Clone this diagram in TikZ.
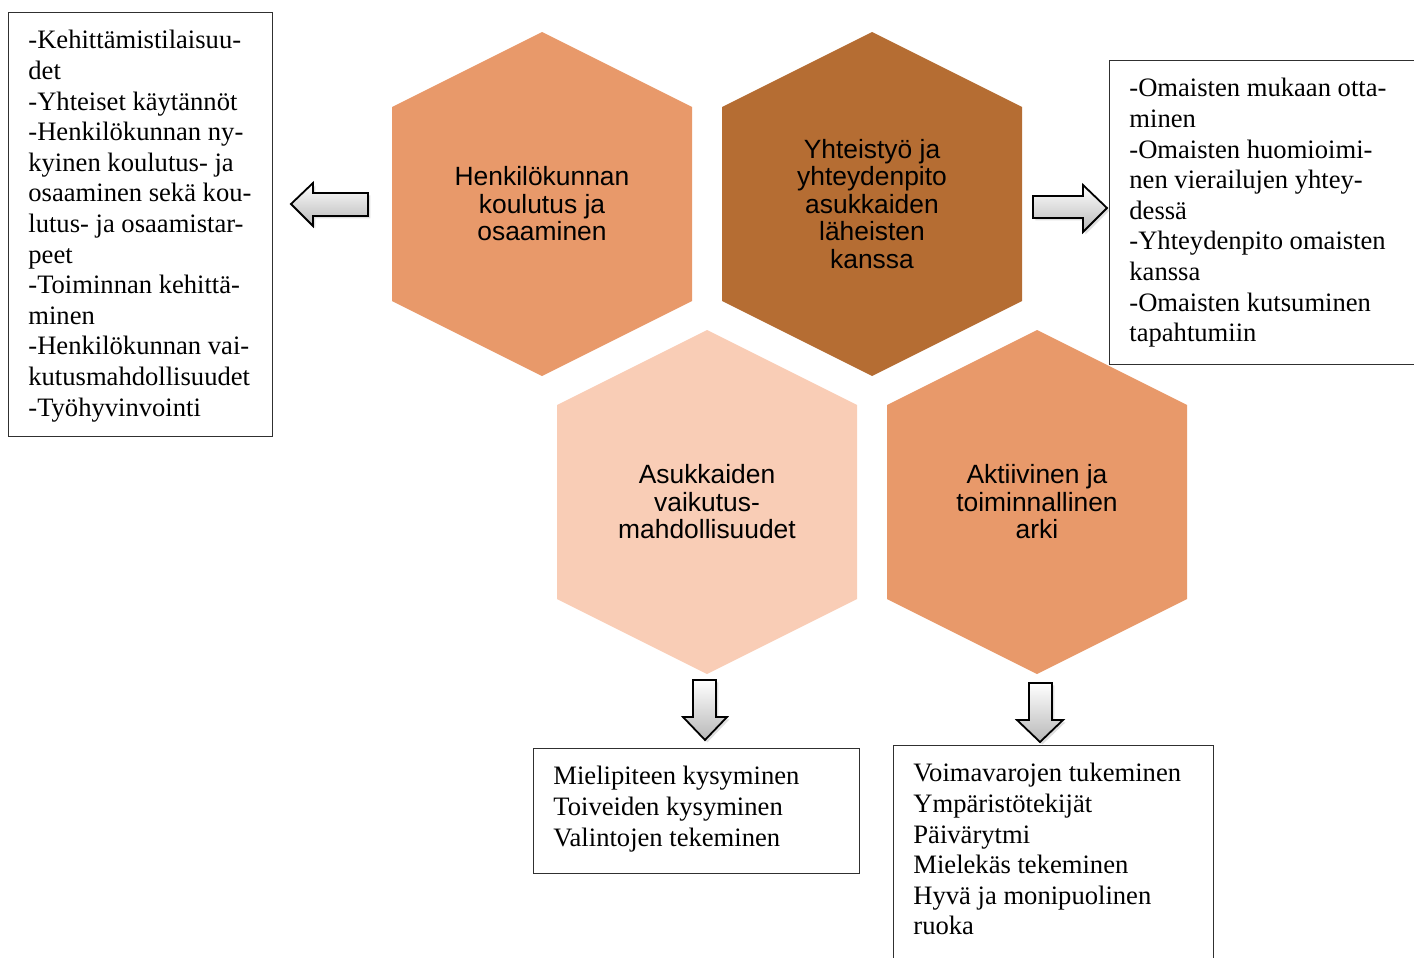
\documentclass[tikz,border=0pt]{standalone}
\usepackage{fontspec}
\setmainfont{Liberation Serif}
\newfontfamily\hexfont{Liberation Sans}
\usetikzlibrary{shadows}
\definecolor{hexmid}{HTML}{E8996A}
\definecolor{hexdark}{HTML}{B56D33}
\definecolor{hexlight}{HTML}{F9CDB6}
\definecolor{boxline}{HTML}{303030}
\newcommand\hexfill[2]{\fill[#2] (#1) ++(0,-172) -- ++(150,75) -- ++(0,194) -- ++(-150,75) -- ++(-150,-75) -- ++(0,-194) -- cycle;}
\begin{document}
\begin{tikzpicture}[x=0.5pt,y=-0.5pt,
  hexlabel/.style={inner sep=0pt, align=center,
    font=\hexfont\fontsize{13.2}{13.75}\selectfont},
  frame/.style={draw=boxline, line width=0.65pt, inner sep=0pt, anchor=north west},
  boxtext/.style={inner sep=0pt, anchor=north west, align=left,
    font=\fontsize{13.3}{15.3}\selectfont},
  blockarrow/.style={draw=black, line width=0.9pt, line join=miter,
    top color=white, bottom color=black!28,
    drop shadow={opacity=0.25, shadow xshift=1.2pt, shadow yshift=-1.2pt}}
]
\useasboundingbox (0,0) rectangle (1414,958);

% hexagons
\coordinate (c1) at (542,204);
\coordinate (c2) at (872,204);
\coordinate (c3) at (707,502);
\coordinate (c4) at (1037,502);
\hexfill{c1}{hexmid}
\hexfill{c2}{hexdark}
\hexfill{c3}{hexlight}
\hexfill{c4}{hexmid}
\node[hexlabel] (h1) at (c1) {Henkilökunnan\\koulutus ja\\osaaminen};
\node[hexlabel] (h2) at (c2) {Yhteistyö ja\\yhteydenpito\\asukkaiden\\läheisten\\kanssa};
\node[hexlabel] (h3) at (c3) {Asukkaiden\\vaikutus-\\mahdollisuudet};
\node[hexlabel] (h4) at (c4) {Aktiivinen ja\\toiminnallinen\\arki};

% boxes
\node[frame, minimum width=132pt, minimum height=212pt] (lbox) at (8,12) {};
\node[boxtext] (ltext) at (28,30) {-Kehittämistilaisuu-\\det\\-Yhteiset käytännöt\\-Henkilökunnan ny-\\kyinen koulutus- ja\\osaaminen sekä kou-\\lutus- ja osaamistar-\\peet\\-Toiminnan kehittä-\\minen\\-Henkilökunnan vai-\\kutusmahdollisuudet\\-Työhyvinvointi};

\node[frame, minimum width=155.5pt, minimum height=152pt] (rbox) at (1109,60) {};
\node[boxtext] (rtext) at (1129,78) {-Omaisten mukaan otta-\\minen\\-Omaisten huomioimi-\\nen vierailujen yhtey-\\dessä\\-Yhteydenpito omaisten\\kanssa\\-Omaisten kutsuminen\\tapahtumiin};

\node[frame, minimum width=163pt, minimum height=62.5pt] (bbox1) at (533,748) {};
\node[boxtext] (btext1) at (553,766) {Mielipiteen kysyminen\\Toiveiden kysyminen\\Valintojen tekeminen};

\node[frame, minimum width=160pt, minimum height=115pt] (bbox2) at (893,745) {};
\node[boxtext] (btext2) at (913,763) {Voimavarojen tukeminen\\Ympäristötekijät\\Päivärytmi\\Mielekäs tekeminen\\Hyvä ja monipuolinen\\ruoka};

% block arrows
\coordinate (la) at (291,204);
\path[blockarrow] (la) -- ++(22,-21) -- ++(0,10) -- ++(55,0) -- ++(0,23) -- ++(-55,0) -- ++(0,10) -- cycle;
\coordinate (ra) at (1107,208);
\path[blockarrow] (ra) -- ++(-24,-23) -- ++(0,11) -- ++(-50,0) -- ++(0,22) -- ++(50,0) -- ++(0,14) -- cycle;
\coordinate (da1) at (705,740);
\path[blockarrow] (da1) -- ++(-22,-23) -- ++(10,0) -- ++(0,-37) -- ++(23,0) -- ++(0,37) -- ++(11,0) -- cycle;
\coordinate (da2) at (1040,742);
\path[blockarrow] (da2) -- ++(-23,-22) -- ++(12,0) -- ++(0,-37) -- ++(23,0) -- ++(0,37) -- ++(11,0) -- cycle;
\end{tikzpicture}
\end{document}
